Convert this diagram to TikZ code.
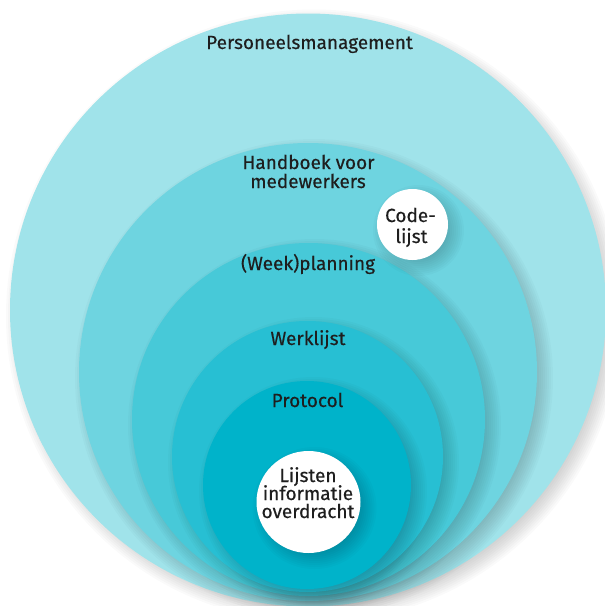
\documentclass[tikz,border=0pt]{standalone}
\usepackage{fontspec}
\setmainfont{Fira Sans}
\newfontfamily\lblfont{Fira Sans}[FakeBold=0.45]
\definecolor{cA}{HTML}{A0E3EA}
\definecolor{cB}{HTML}{6ED4E0}
\definecolor{cC}{HTML}{47C9D8}
\definecolor{cD}{HTML}{27BFD3}
\definecolor{cE}{HTML}{00B3CA}
\definecolor{txt}{HTML}{1E1E1E}
\newcommand\softshade[4]{%
  \foreach \k in {0,...,13}{%
    \fill[black, opacity=0.02] (#1+6,#2+6) ellipse [x radius={#3+10-2*\k}, y radius={#4+10-2*\k}];
  }%
}
\begin{document}
\begin{tikzpicture}[x=1pt,y=-1pt,
  lbl/.style={text=txt, font=\lblfont\fontsize{19}{19}\selectfont, inner sep=0pt, anchor=base}]
\useasboundingbox (0,0) rectangle (605,606);
\clip (0,0) rectangle (605,606);
% outer
\softshade{308}{310}{298}{296.5}
\fill[cA] (308,310) ellipse [x radius=298, y radius=296.5];
% handboek
\softshade{308}{372}{229}{229}
\fill[cB] (308,372) ellipse [x radius=229, y radius=229];
% week
\softshade{308.5}{419.5}{176.5}{176.5}
\fill[cC] (308.5,419.5) ellipse [x radius=176.5, y radius=176.5];
% werklijst
\softshade{307.5}{456.5}{135.5}{135.5}
\fill[cD] (307.5,456.5) ellipse [x radius=135.5, y radius=135.5];
% protocol
\softshade{307}{485}{104}{104}
\fill[cE] (307,485) ellipse [x radius=104, y radius=104];
% white circles
\softshade{308.5}{502}{52}{51}
\fill[white] (308.5,502) ellipse [x radius=52, y radius=51];
\softshade{412.5}{224.5}{35.5}{35.5}
\fill[white] (412.5,224.5) ellipse [x radius=35.5, y radius=35.5];
% labels
\node[lbl] (pm) at (309.5,49) {Personeelsmanagement};
\node[lbl] (hb1) at (308.5,169) {Handboek voor};
\node[lbl] (hb2) at (308,188) {medewerkers};
\node[lbl] (cl1) at (410.5,222) {Code-};
\node[lbl] (cl2) at (411.5,243) {lijst};
\node[lbl] (wp) at (308,270) {(Week)planning};
\node[lbl] (wl) at (308,345) {Werklijst};
\node[lbl] (pr) at (307.5,407) {Protocol};
\node[lbl] (li1) at (308,482) {Lijsten};
\node[lbl] (li2) at (308,500) {informatie};
\node[lbl] (li3) at (308,518) {overdracht};
\end{tikzpicture}
\end{document}
